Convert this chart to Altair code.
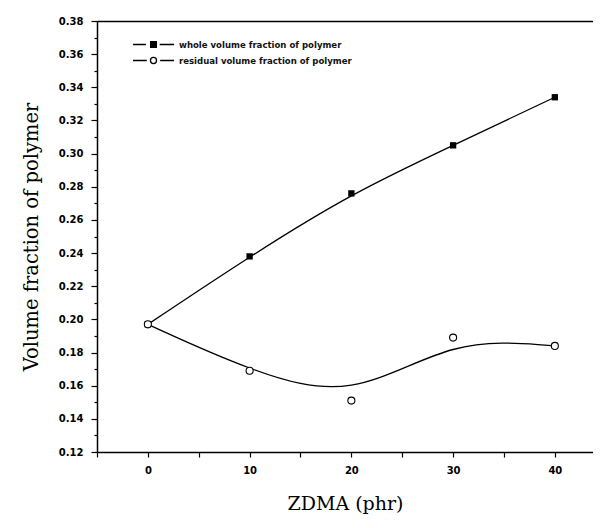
import altair as alt
import pandas as pd

x_vals = [0, 10, 20, 30, 40]
whole = [0.197, 0.238, 0.276, 0.305, 0.334]
residual = [0.197, 0.169, 0.151, 0.189, 0.184]
series_names = ["whole volume fraction of polymer", "residual volume fraction of polymer"]

x_ticks = [-5, 0, 5, 10, 15, 20, 25, 30, 35, 40]
y_ticks = [round(0.12 + 0.01 * i, 2) for i in range(27)]

rows = []
for xv, w in zip(x_vals, whole):
    rows.append({"x": xv, "y": w, "series": series_names[0]})
for xv, r in zip(x_vals, residual):
    rows.append({"x": xv, "y": r, "series": series_names[1]})
df = pd.DataFrame(rows)

xscale = alt.Scale(domain=[-5, 43.75], nice=False, zero=False)
yscale = alt.Scale(domain=[0.12, 0.38], nice=False, zero=False)

tick_font = "DejaVu Sans"
title_font = "DejaVu Serif"

x_axis = alt.Axis(
    values=x_ticks,
    labelExpr="datum.value % 10 == 0 ? datum.value : ''",
    grid=False, tickSize=5, tickColor="black", tickWidth=1.2,
    domainColor="black", domainWidth=1.5,
    labelFont=tick_font, labelFontWeight="bold", labelFontSize=10, labelColor="black",
    labelPadding=8,
    title="ZDMA (phr)", titleFont=title_font, titleFontSize=19, titleFontWeight="normal",
    titleColor="black", titlePadding=19,
)
y_axis = alt.Axis(
    values=y_ticks,
    labelExpr="round(datum.value*100) % 2 == 0 ? format(datum.value, '.2f') : ''",
    grid=False,
    tickSize={"condition": {"test": "round(datum.value*100) % 2 == 0", "value": 6}, "value": 3},
    tickColor="black", tickWidth=1.2,
    domainColor="black", domainWidth=1.5,
    labelFont=tick_font, labelFontWeight="bold", labelFontSize=10, labelColor="black",
    labelPadding=8,
    title="Volume fraction of polymer", titleFont=title_font, titleFontSize=19.5,
    titleFontWeight="normal", titleColor="black", titlePadding=17,
)
top_axis = alt.Axis(orient="top", labels=False, ticks=False, title=None, grid=False,
                    domainColor="black", domainWidth=1.5)

base = alt.Chart(df)
Y = alt.Y("y:Q", scale=yscale, axis=y_axis)

lines = base.mark_line(interpolate="basis", color="black", strokeWidth=1.3).encode(
    x=alt.X("x:Q", scale=xscale, axis=x_axis),
    y=Y,
    detail="series:N",
)

squares = base.transform_filter(alt.datum.series == series_names[0]).mark_point(
    shape="square", filled=True, color="black", size=40, opacity=1
).encode(
    x=alt.X("x:Q", scale=xscale, axis=top_axis),
    y=Y,
)

circles = base.transform_filter(alt.datum.series == series_names[1]).mark_point(
    shape="circle", fill="white", stroke="black", strokeWidth=1.1, size=50, opacity=1, filled=False
).encode(
    x=alt.X("x:Q", scale=xscale, axis=None),
    y=Y,
)

sq_path = "M-2.16,0H-0.8M0.65,0H2.16M-0.3,-0.3H0.3V0.3H-0.3Z"
ci_path = "M-2.16,0H-0.7M0.7,0H2.16M-0.32,0A0.32,0.32 0 1,0 0.32,0A0.32,0.32 0 1,0 -0.32,0Z"

leg = alt.Legend(title=None, orient="none", legendX=46, legendY=13,
                 symbolSize=361, symbolOpacity=1, symbolStrokeColor="black",
                 symbolStrokeWidth=1.3, labelOffset=15, rowPadding=0,
                 padding=0, labelFont="DejaVu Sans Condensed",
                 labelFontSize=9.5, labelFontWeight="bold",
                 labelColor="#111", labelLimit=400)

legend_layer = base.mark_point(opacity=0, strokeWidth=1.3).encode(
    x=alt.X("x:Q", scale=xscale, axis=None),
    y=Y,
    shape=alt.Shape("series:N", scale=alt.Scale(domain=series_names, range=[sq_path, ci_path]),
                    legend=leg),
    fill=alt.Fill("series:N", scale=alt.Scale(domain=series_names, range=["black", "white"]),
                  legend=leg),
    stroke=alt.Stroke("series:N", scale=alt.Scale(domain=series_names, range=["black", "black"]),
                      legend=leg),
)

chart = alt.layer(lines, squares, circles, legend_layer).resolve_axis(x="independent").properties(
    width=496, height=431, background="white",
    autosize=alt.AutoSizeParams(type="none"),
    padding={"left": 89, "top": 13, "right": 0, "bottom": 62},
).configure_view(stroke=None)

chart.save("out.html", embed_options={"renderer": "svg", "actions": False})
